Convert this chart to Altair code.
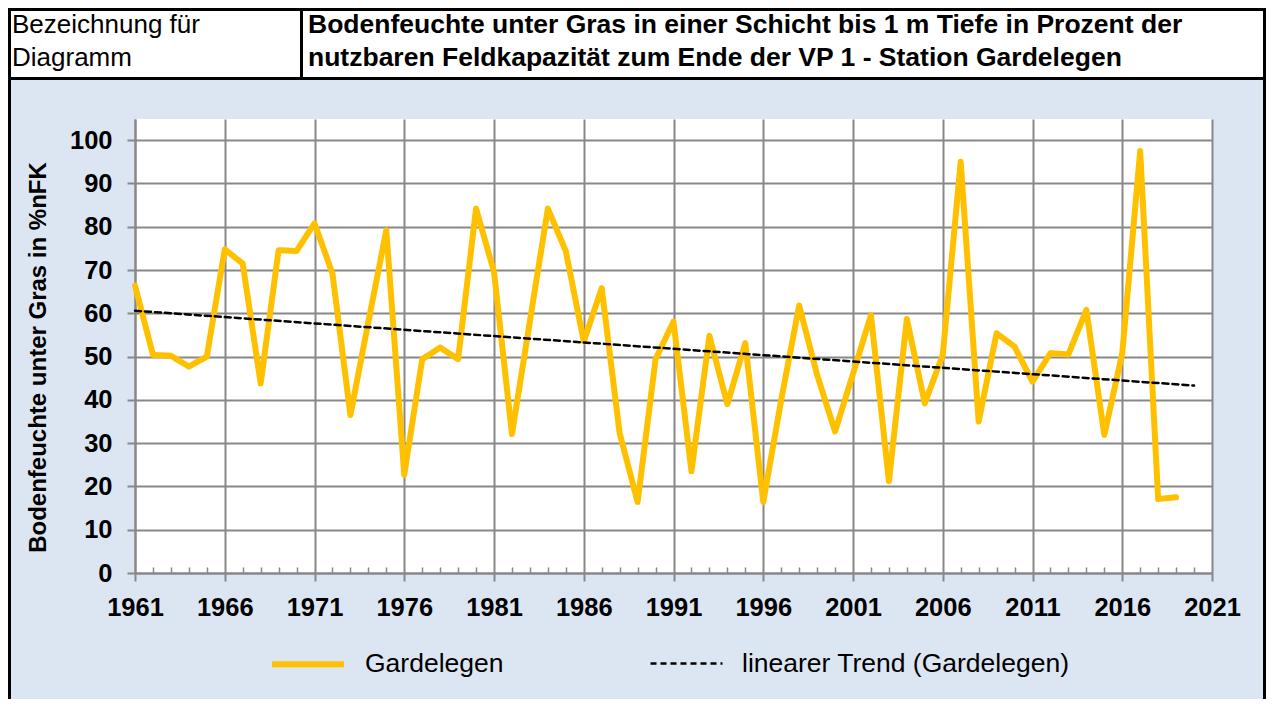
import altair as alt
import pandas as pd

# ---------------- data ----------------
years = list(range(1961, 2020))
values = [
    66.4, 50.4, 50.2, 47.7, 50.0, 74.8, 71.5, 43.8, 74.6, 74.4,   # 1961-1970
    80.8, 69.2, 36.5, 58.0, 79.2, 22.7, 49.4, 52.1, 49.4, 84.2,   # 1971-1980
    69.6, 32.1, 58.2, 84.2, 74.4, 53.5, 65.8, 32.3, 16.4, 49.4,   # 1981-1990
    58.1, 23.5, 54.8, 39.0, 53.1, 16.4, 40.0, 61.8, 45.8, 32.7,   # 1991-2000
    46.0, 59.6, 21.2, 58.7, 39.2, 50.4, 95.0, 35.0, 55.4, 52.3,   # 2001-2010
    44.2, 50.8, 50.5, 60.8, 31.9, 50.8, 97.5, 17.1, 17.5,         # 2011-2019
]
trend_years = [1961, 2020]
trend_values = [60.6, 43.3]

series_names = ["Gardelegen", "linearer Trend (Gardelegen)"]
major_ticks = list(range(1961, 2022, 5))
minor_ticks = [y for y in range(1962, 2021) if (y - 1961) % 5 != 0]
y_ticks = list(range(0, 101, 10))

header_left = ["Bezeichnung für", "Diagramm"]
header_title = [
    "Bodenfeuchte unter Gras in einer Schicht bis 1 m Tiefe in Prozent der",
    "nutzbaren Feldkapazität zum Ende der VP 1 - Station Gardelegen",
]
y_title = "Bodenfeuchte unter Gras in %nFK"

# ---------------- styling ----------------
FONT = "Liberation Sans"
ORANGE = "#FFC000"
GRID = "#888888"
BG = "#DCE6F2"

df = pd.DataFrame(
    {"Jahr": years + trend_years,
     "Wert": values + trend_values,
     "Reihe": [series_names[0]] * len(years) + [series_names[1]] * len(trend_years)}
)

legend_kw = dict(
    title=None, orient="none", legendX=134, legendY=506, direction="horizontal",
    symbolType="stroke", symbolSize=5184, labelFont=FONT, labelFontSize=26.5,
    labelColor="black", labelOffset=18, columnPadding=141, labelLimit=600,
)

main = alt.Chart(df).mark_line(strokeCap="round", strokeJoin="round").encode(
    x=alt.X("Jahr:Q",
            scale=alt.Scale(domain=[1961, 2021], nice=False, zero=False),
            axis=alt.Axis(values=major_ticks, format="d", title=None, grid=True,
                          gridColor=GRID, gridWidth=2, tickColor=GRID, tickWidth=2,
                          tickSize=8, domainColor=GRID, domainWidth=2,
                          labelFont=FONT, labelFontSize=25.5, labelFontWeight="bold",
                          labelColor="black", labelPadding=14, labelFlush=False,
                          labelOverlap=False, labelBound=False)),
    y=alt.Y("Wert:Q",
            scale=alt.Scale(domain=[0, 104.9], nice=False, zero=True),
            axis=alt.Axis(values=y_ticks, title=y_title, grid=True,
                          gridColor=GRID, gridWidth=2, tickColor=GRID, tickWidth=2,
                          tickSize=8, domainColor=GRID, domainWidth=2,
                          labelFont=FONT, labelFontSize=25.5, labelFontWeight="bold",
                          labelColor="black", labelPadding=15, labelFlush=False,
                          labelOverlap=False,
                          titleFont=FONT, titleFontSize=24, titleFontWeight="bold",
                          titleColor="black", titleAngle=270, titleX=-97, titleY=238,
                          titleAlign="center", titleBaseline="middle")),
    color=alt.Color("Reihe:N", scale=alt.Scale(domain=series_names, range=[ORANGE, "black"]),
                    legend=alt.Legend(**legend_kw)),
    strokeDash=alt.StrokeDash("Reihe:N", scale=alt.Scale(domain=series_names, range=[[1, 0], [6, 4]]),
                              legend=alt.Legend(**legend_kw)),
    strokeWidth=alt.StrokeWidth("Reihe:N", scale=alt.Scale(domain=series_names, range=[6, 2.5]),
                                legend=alt.Legend(**legend_kw)),
    detail="Reihe:N",
)

minor = alt.Chart(df).mark_point(opacity=0).encode(
    x=alt.X("Jahr:Q",
            axis=alt.Axis(values=minor_ticks, orient="bottom", offset=-6, tickSize=6,
                          domain=False, labels=False, grid=False, title=None,
                          tickColor=GRID, tickWidth=1.5)),
)

blank = alt.Data(values=[{}])

header_box = alt.Chart(blank).mark_rect(fill="white", stroke="black", strokeWidth=3).encode(
    x=alt.value(-125.5), x2=alt.value(1129.5), y=alt.value(-109.5), y2=alt.value(-40.5))
outer_box = alt.Chart(blank).mark_rect(fillOpacity=0, stroke="black", strokeWidth=3).encode(
    x=alt.value(-125.5), x2=alt.value(1129.5), y=alt.value(-40.5), y2=alt.value(620))
divider = alt.Chart(blank).mark_rule(stroke="black", strokeWidth=3).encode(
    x=alt.value(166.5), y=alt.value(-109.5), y2=alt.value(-40.5))


def htext(txt, x, y, bold, size):
    return alt.Chart(blank).mark_text(
        align="left", baseline="alphabetic", font=FONT, fontSize=size,
        fontWeight="bold" if bold else "normal", color="black",
    ).encode(x=alt.value(x), y=alt.value(y), text=alt.value(txt))


texts = [
    htext(header_left[0], -123, -86, False, 26),
    htext(header_left[1], -123, -53, False, 26),
    htext(header_title[0], 173, -86, True, 26.5),
    htext(header_title[1], 173, -53, True, 26.5),
]

chart = alt.layer(
    outer_box, main, minor, header_box, divider, *texts
).resolve_axis(x="independent").properties(
    width=1077, height=454,
    padding={"left": 127, "top": 111, "right": 54, "bottom": 126},
    autosize=alt.AutoSizeParams(type="none"),
    background=BG,
).configure_view(fill="white", strokeWidth=0)

chart.save("out.html", embed_options={"renderer": "svg", "actions": False})
